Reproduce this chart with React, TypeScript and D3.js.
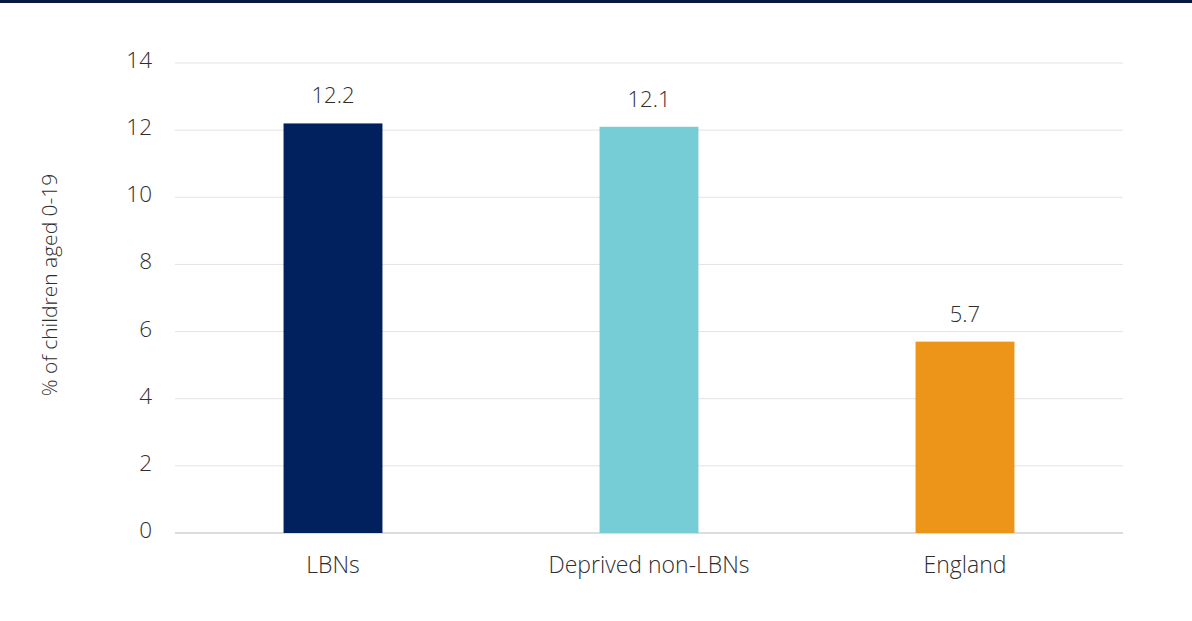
import React from "react";
import * as d3 from "d3";

const categories = ["LBNs", "Deprived non-LBNs", "England"];
const values = [12.2, 12.1, 5.7];
const barColors = ["#00215E", "#77CDD5", "#ED9519"];
const yTicks = [0, 2, 4, 6, 8, 10, 12, 14];
const yTitle = "% of children aged 0-19";

const W = 1192;
const H = 621;
const FONT = "'Open Sans', Lato, sans-serif";
const TEXT = "#2E2E2E";
const FW = 300;

export default function App() {
  const x = d3.scaleBand<string>().domain(categories).range([175, 1123]).paddingInner(0.687).paddingOuter(0.3435);
  const y = d3.scaleLinear().domain([0, 14]).range([533, 63]);

  return (
    <svg width={W} height={H} style={{ position: "absolute", left: 0, top: 0, background: "#fff" }}>
      <rect x={0} y={0} width={W} height={H} fill="#fff" />
      <rect x={0} y={0} width={W} height={3} fill="#0A1A3F" />
      {yTicks.map((t) => (
        <g key={t}>
          <line x1={175} x2={1123} y1={y(t)} y2={y(t)} stroke={t === 0 ? "#D0D0D0" : "#E3E3E3"} strokeWidth={t === 0 ? 1.5 : 1} />
          <text x={152} y={y(t) + 5} textAnchor="end" fontFamily={FONT} fontWeight={FW} fontSize={22.5} fill={TEXT}>
            {t}
          </text>
        </g>
      ))}
      {categories.map((c, i) => (
        <g key={c}>
          <rect x={x(c)} y={y(values[i])} width={x.bandwidth()} height={y(0) - y(values[i])} fill={barColors[i]} />
          <text x={(x(c) ?? 0) + x.bandwidth() / 2} y={y(values[i]) - 20} textAnchor="middle" fontFamily={FONT} fontWeight={FW} fontSize={22} fill={TEXT}>
            {values[i].toFixed(1)}
          </text>
          <text x={(x(c) ?? 0) + x.bandwidth() / 2} y={573} textAnchor="middle" fontFamily={FONT} fontWeight={FW} fontSize={23} fill={TEXT}>
            {c}
          </text>
        </g>
      ))}
      <text transform={`translate(57,${285}) rotate(-90)`} textAnchor="middle" fontFamily={FONT} fontWeight={FW} fontSize={21} fill={TEXT}>
        {yTitle}
      </text>
    </svg>
  );
}
